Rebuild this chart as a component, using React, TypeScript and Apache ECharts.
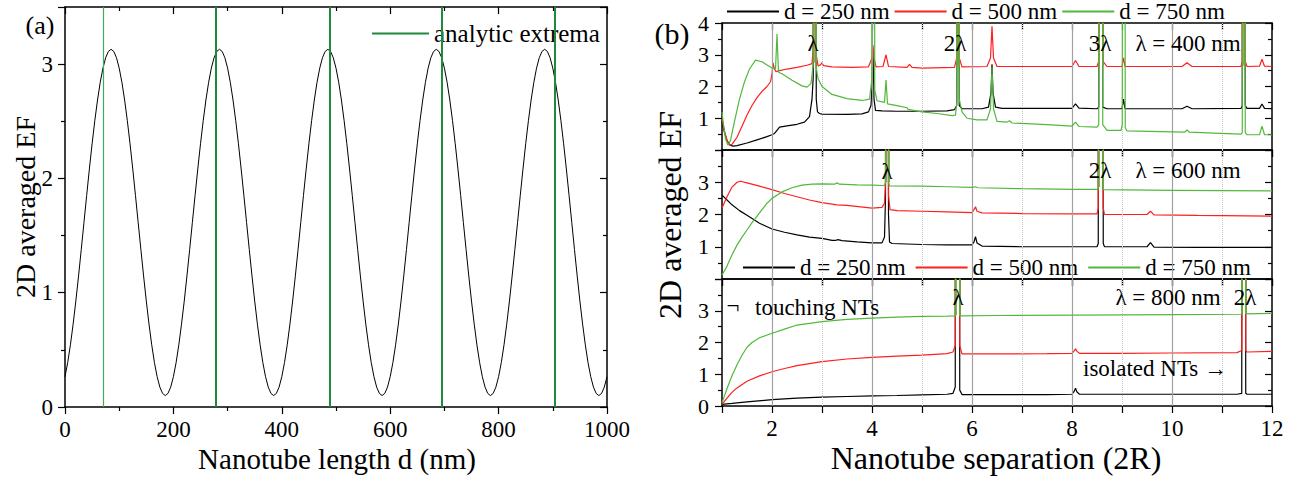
import React, { useEffect, useRef } from "react";
import * as echarts from "echarts";

const FONT = "'Times New Roman', 'Liberation Serif', 'DejaVu Serif', serif";

// ---------- panel (a) ----------
const lengthStepNm = 5; // sample spacing of the curve below, from d = 0 nm
const efByLength = [
  0.265, 0.389, 0.544, 0.725, 0.927, 1.147, 1.378, 1.615, 1.852, 2.083, 2.303, 2.505, 2.686, 2.841, 2.965, 3.056, 3.111, 3.130,
  3.111, 3.056, 2.965, 2.841, 2.686, 2.505, 2.303, 2.083, 1.852, 1.615, 1.378, 1.147, 0.927, 0.725, 0.544, 0.389, 0.265, 0.174, 0.119, 0.100,
  0.119, 0.174, 0.265, 0.389, 0.544, 0.725, 0.927, 1.147, 1.378, 1.615, 1.852, 2.083, 2.303, 2.505, 2.686, 2.841, 2.965, 3.056, 3.111, 3.130,
  3.111, 3.056, 2.965, 2.841, 2.686, 2.505, 2.303, 2.083, 1.852, 1.615, 1.378, 1.147, 0.927, 0.725, 0.544, 0.389, 0.265, 0.174, 0.119, 0.100,
  0.119, 0.174, 0.265, 0.389, 0.544, 0.725, 0.927, 1.147, 1.378, 1.615, 1.852, 2.083, 2.303, 2.505, 2.686, 2.841, 2.965, 3.056, 3.111, 3.130,
  3.111, 3.056, 2.965, 2.841, 2.686, 2.505, 2.303, 2.083, 1.852, 1.615, 1.378, 1.147, 0.927, 0.725, 0.544, 0.389, 0.265, 0.174, 0.119, 0.100,
  0.119, 0.174, 0.265, 0.389, 0.544, 0.725, 0.927, 1.147, 1.378, 1.615, 1.852, 2.083, 2.303, 2.505, 2.686, 2.841, 2.965, 3.056, 3.111, 3.130,
  3.111, 3.056, 2.965, 2.841, 2.686, 2.505, 2.303, 2.083, 1.852, 1.615, 1.378, 1.147, 0.927, 0.725, 0.544, 0.389, 0.265, 0.174, 0.119, 0.100,
  0.119, 0.174, 0.265, 0.389, 0.544, 0.725, 0.927, 1.147, 1.378, 1.615, 1.852, 2.083, 2.303, 2.505, 2.686, 2.841, 2.965, 3.056, 3.111, 3.130,
  3.111, 3.056, 2.965, 2.841, 2.686, 2.505, 2.303, 2.083, 1.852, 1.615, 1.378, 1.147, 0.927, 0.725, 0.544, 0.389, 0.265, 0.174, 0.119, 0.100,
  0.119, 0.174, 0.265,
];
const extremaNm = [70, 279, 488, 696, 904];
const lengthTicks = [0, 200, 400, 600, 800, 1000];
const efTicksA = [0, 1, 2, 3];

// ---------- panel (b) ----------
const sepTickLabels = [2, 4, 6, 8, 10, 12];
const sepMajorGrid = [2, 4, 6, 8, 10];
const sepMinorGrid = [3, 5, 7, 9, 11];
const topYLabels = [1, 2, 3, 4];
const midYLabels = [1, 2, 3];
const botYLabels = [0, 1, 2, 3];
const dNames = ["d = 250 nm", "d = 500 nm", "d = 750 nm"];

// lambda = 400 nm
const top250 = [
  [1.0, 0.9], [1.05, 0.55], [1.1, 0.3], [1.15, 0.17], [1.22, 0.12], [1.3, 0.14], [1.5, 0.22], [1.7, 0.32], [1.9, 0.42],
  [2.0, 0.48], [2.05, 0.52], [2.1, 0.62], [2.15, 0.72], [2.3, 0.76], [2.5, 0.81], [2.65, 0.88], [2.75, 1.05], [2.8, 1.6],
  [2.825, 2.3], [2.83, 9], [2.88, 9], [2.885, 1.6], [2.91, 1.2], [2.95, 1.15], [3.0, 1.13], [3.5, 1.12], [3.8, 1.14],
  [3.93, 1.2], [3.98, 1.4], [4.0, 2.0], [4.02, 3.1], [4.04, 1.6], [4.07, 1.25], [4.2, 1.23], [4.5, 1.22], [5.0, 1.22],
  [5.5, 1.23], [5.65, 1.27], [5.695, 1.4], [5.7, 9], [5.74, 9], [5.745, 1.4], [5.8, 1.3], [6.2, 1.3], [6.33, 1.35],
  [6.38, 1.8], [6.4, 2.7], [6.42, 1.8], [6.47, 1.35], [6.6, 1.31], [8.0, 1.31], [8.07, 1.45], [8.14, 1.32], [8.5, 1.3],
  [8.535, 1.35], [8.54, 9], [8.61, 9], [8.615, 1.35], [8.7, 1.3], [9.0, 1.3], [9.03, 1.6], [9.06, 1.3], [10.2, 1.3],
  [10.3, 1.38], [10.4, 1.3], [11.38, 1.31], [11.405, 1.4], [11.41, 9], [11.46, 9], [11.465, 1.4], [11.5, 1.31],
  [11.75, 1.31], [11.8, 1.45], [11.85, 1.31], [12.0, 1.3],
];
const top500 = [
  [1.0, 1.0], [1.05, 0.6], [1.1, 0.3], [1.15, 0.16], [1.2, 0.18], [1.3, 0.4], [1.4, 0.75], [1.5, 1.1], [1.6, 1.4],
  [1.7, 1.65], [1.8, 1.85], [1.9, 2.0], [1.97, 2.15], [2.0, 2.4], [2.02, 2.74], [2.05, 2.55], [2.08, 2.47], [2.15, 2.5],
  [2.3, 2.55], [2.5, 2.6], [2.7, 2.67], [2.8, 2.72], [2.825, 3.2], [2.83, 9], [2.88, 9], [2.885, 3.0], [2.92, 2.65],
  [2.97, 2.68], [3.0, 2.75], [3.03, 2.66], [3.2, 2.62], [3.6, 2.6], [3.93, 2.62], [4.0, 2.9], [4.02, 3.3], [4.04, 2.9],
  [4.08, 2.62], [4.22, 2.63], [4.28, 3.0], [4.33, 2.63], [4.7, 2.6], [4.75, 2.7], [4.8, 2.6], [5.0, 2.58], [5.65, 2.6],
  [5.695, 2.9], [5.7, 9], [5.74, 9], [5.745, 2.9], [5.8, 2.62], [6.3, 2.63], [6.37, 2.9], [6.4, 3.9], [6.43, 2.9],
  [6.5, 2.63], [8.0, 2.63], [8.07, 2.82], [8.14, 2.63], [8.5, 2.63], [8.535, 2.8], [8.54, 9], [8.61, 9], [8.615, 2.8],
  [8.7, 2.63], [9.0, 2.63], [9.03, 2.9], [9.06, 2.63], [10.2, 2.63], [10.3, 2.75], [10.4, 2.63], [11.38, 2.63],
  [11.405, 2.8], [11.41, 9], [11.46, 9], [11.465, 2.8], [11.5, 2.63], [11.75, 2.64], [11.8, 2.86], [11.85, 2.64], [12.0, 2.63],
];
const top750 = [
  [1.0, 1.2], [1.03, 0.8], [1.07, 0.35], [1.12, 0.15], [1.17, 0.3], [1.25, 0.9], [1.35, 1.6], [1.45, 2.15], [1.55, 2.55],
  [1.67, 2.83], [1.8, 2.78], [1.9, 2.68], [2.0, 2.58], [2.07, 2.55], [2.1, 3.65], [2.13, 2.45], [2.2, 2.4], [2.4, 2.2],
  [2.6, 2.02], [2.7, 1.98], [2.78, 2.1], [2.825, 2.7], [2.83, 9], [2.88, 9], [2.885, 2.6], [2.92, 2.25], [3.0, 2.0],
  [3.2, 1.75], [3.5, 1.62], [3.8, 1.56], [3.95, 1.6], [3.995, 2.2], [4.0, 9], [4.05, 9], [4.055, 1.9], [4.1, 1.55],
  [4.25, 1.5], [4.28, 2.2], [4.31, 1.45], [4.5, 1.4], [4.7, 1.33], [4.72, 1.28], [5.0, 1.2], [5.3, 1.15], [5.6, 1.08],
  [5.67, 1.1], [5.695, 1.5], [5.7, 9], [5.74, 9], [5.745, 1.6], [5.8, 1.2], [5.9, 1.0], [6.1, 0.95], [6.3, 0.95],
  [6.37, 1.3], [6.4, 2.6], [6.43, 1.3], [6.5, 0.9], [6.7, 0.88], [6.75, 0.92], [6.8, 0.85], [7.5, 0.8], [8.0, 0.75],
  [8.07, 0.88], [8.14, 0.74], [8.5, 0.72], [8.535, 0.8], [8.54, 9], [8.61, 9], [8.615, 0.8], [8.7, 0.62], [8.98, 0.62],
  [9.005, 0.8], [9.01, 9], [9.06, 9], [9.065, 0.7], [9.1, 0.6], [10.0, 0.57], [10.25, 0.56], [10.3, 0.63], [10.35, 0.56],
  [10.7, 0.54], [11.38, 0.5], [11.405, 0.55], [11.41, 9], [11.46, 9], [11.465, 0.55], [11.5, 0.48], [11.75, 0.48],
  [11.8, 0.75], [11.85, 0.48], [12.0, 0.48],
];
// lambda = 600 nm
const mid250 = [
  [1.0, 2.6], [1.1, 2.45], [1.2, 2.3], [1.35, 2.12], [1.5, 1.98], [1.75, 1.73], [2.0, 1.55], [2.25, 1.45], [2.5, 1.37],
  [2.75, 1.3], [3.0, 1.26], [3.2, 1.2], [3.28, 1.2], [3.32, 1.22], [3.4, 1.19], [3.7, 1.15], [4.0, 1.12], [4.2, 1.12],
  [4.25, 1.3], [4.27, 2.5], [4.275, 9], [4.325, 9], [4.33, 2.0], [4.35, 1.15], [4.4, 1.1], [5.0, 1.07], [5.5, 1.06],
  [6.0, 1.06], [6.04, 1.15], [6.07, 1.31], [6.1, 1.12], [6.2, 1.02], [7.0, 1.0], [8.0, 1.0], [8.5, 1.0], [8.525, 1.1],
  [8.53, 9], [8.62, 9], [8.625, 1.1], [8.65, 1.0], [9.5, 1.0], [9.57, 1.13], [9.64, 0.99], [10.5, 0.98], [12.0, 0.98],
];
const mid500 = [
  [1.0, 2.2], [1.1, 2.55], [1.2, 2.85], [1.3, 3.0], [1.37, 3.03], [1.5, 2.98], [1.75, 2.88], [2.0, 2.77], [2.25, 2.65],
  [2.5, 2.55], [2.75, 2.45], [3.0, 2.37], [3.3, 2.3], [3.5, 2.28], [4.0, 2.2], [4.2, 2.22], [4.25, 2.35], [4.27, 3.0],
  [4.275, 9], [4.325, 9], [4.33, 2.6], [4.36, 2.15], [4.5, 2.12], [5.0, 2.1], [5.5, 2.08], [6.0, 2.06], [6.04, 2.15],
  [6.07, 2.24], [6.1, 2.1], [6.2, 2.05], [7.0, 2.03], [8.0, 2.02], [8.5, 2.02], [8.525, 2.2], [8.53, 9], [8.62, 9],
  [8.625, 2.2], [8.65, 2.0], [9.5, 2.0], [9.57, 2.1], [9.64, 1.99], [10.5, 1.97], [12.0, 1.95],
];
const mid750 = [
  [1.0, 0.12], [1.1, 0.4], [1.2, 0.75], [1.3, 1.05], [1.4, 1.3], [1.5, 1.52], [1.6, 1.75], [1.75, 2.05], [1.9, 2.35],
  [2.0, 2.5], [2.2, 2.7], [2.4, 2.83], [2.6, 2.91], [2.8, 2.94], [3.0, 2.95], [3.25, 2.94], [3.3, 2.98], [3.35, 2.94],
  [3.7, 2.92], [4.0, 2.91], [4.25, 2.9], [4.27, 3.0], [4.275, 9], [4.325, 9], [4.33, 3.0], [4.35, 2.89], [5.0, 2.88],
  [5.5, 2.86], [6.0, 2.84], [6.07, 2.86], [6.12, 2.83], [7.0, 2.8], [8.0, 2.78], [8.52, 2.78], [8.525, 2.85], [8.53, 9],
  [8.62, 9], [8.625, 2.85], [8.63, 2.77], [10.0, 2.75], [12.0, 2.73],
];
// lambda = 800 nm
const bot250 = [
  [1.0, 0.05], [1.2, 0.08], [1.5, 0.13], [2.0, 0.2], [2.5, 0.25], [3.0, 0.28], [3.5, 0.3], [4.0, 0.32], [4.5, 0.33],
  [5.0, 0.35], [5.5, 0.37], [5.62, 0.4], [5.665, 0.6], [5.67, 9], [5.75, 9], [5.755, 0.5], [5.8, 0.36], [6.5, 0.36],
  [7.5, 0.36], [8.0, 0.37], [8.04, 0.45], [8.07, 0.56], [8.1, 0.44], [8.15, 0.37], [9.0, 0.37], [10.0, 0.37],
  [11.3, 0.37], [11.395, 0.4], [11.4, 9], [11.47, 9], [11.475, 0.4], [11.5, 0.37], [12.0, 0.37],
];
const bot500 = [
  [1.0, 0.05], [1.1, 0.25], [1.2, 0.43], [1.3, 0.57], [1.5, 0.78], [1.75, 0.95], [2.0, 1.08], [2.25, 1.18], [2.5, 1.27],
  [3.0, 1.4], [3.5, 1.48], [4.0, 1.53], [4.5, 1.57], [5.0, 1.6], [5.5, 1.65], [5.62, 1.7], [5.665, 1.9], [5.67, 9],
  [5.75, 9], [5.755, 1.9], [5.8, 1.64], [6.5, 1.64], [7.5, 1.65], [8.0, 1.66], [8.04, 1.73], [8.07, 1.8], [8.1, 1.72],
  [8.15, 1.66], [9.0, 1.66], [10.0, 1.67], [11.3, 1.68], [11.395, 1.75], [11.4, 9], [11.47, 9], [11.475, 1.75],
  [11.5, 1.7], [12.0, 1.72],
];
const bot750 = [
  [1.0, 0.1], [1.1, 0.55], [1.2, 0.95], [1.3, 1.3], [1.4, 1.6], [1.5, 1.85], [1.6, 2.0], [1.75, 2.15], [2.0, 2.29],
  [2.25, 2.42], [2.5, 2.55], [3.0, 2.66], [3.5, 2.73], [4.0, 2.77], [4.5, 2.8], [5.0, 2.82], [5.5, 2.83], [5.665, 2.84],
  [5.67, 9], [5.75, 9], [5.755, 2.84], [6.5, 2.85], [8.0, 2.86], [9.0, 2.87], [10.0, 2.88], [11.395, 2.89], [11.4, 9],
  [11.47, 9], [11.475, 2.9], [12.0, 2.92],
];
// resonance (Rayleigh-anomaly) double lines: [left x, right x, lowest y]
const resonTop = [[2.83, 2.88, 2.75], [5.7, 5.74, 2.62], [8.54, 8.61, 2.65], [11.41, 11.46, 2.65]];
const resonMid = [[4.275, 4.325, 3.0], [8.53, 8.62, 2.85]];
const resonBot = [[5.67, 5.75, 2.86], [11.4, 11.47, 2.9]];

const BLACK = "#000000";
const RED = "#ff1f1f";
const GREEN = "#52b83c";
const OLIVE = "#8e8a3e";
const EXTREMA = "#1d8a3e";

export default function App() {
  const ref = useRef<HTMLDivElement>(null);

  useEffect(() => {
    if (!ref.current) return;
    const chart = echarts.init(ref.current, undefined, { renderer: "svg" });

    const axisLine = { show: true, onZero: false, lineStyle: { color: "#000", width: 1.5 } };
    const tickStyle = { color: "#000", width: 1.2 };
    const labelBase = { fontSize: 23, fontFamily: FONT, color: "#000" };

    const xPair = (g: number, min: number, max: number, interval: number, minor: boolean, labels: number[] | null) => [
      {
        type: "value", gridIndex: g, position: "bottom", min, max, interval,
        axisLine, splitLine: { show: false },
        axisTick: { show: true, inside: false, length: 7, lineStyle: tickStyle },
        minorTick: { show: minor, splitNumber: 2, length: 4, lineStyle: tickStyle },
        axisLabel: labels
          ? { show: true, ...labelBase, margin: 11, formatter: (v: number) => (labels.includes(v) ? String(v) : "") }
          : { show: false },
      },
      {
        type: "value", gridIndex: g, position: "top", min, max, interval,
        axisLine, splitLine: { show: false },
        axisTick: { show: true, inside: true, length: 7, lineStyle: tickStyle },
        minorTick: { show: minor, splitNumber: 2, length: 4, lineStyle: tickStyle },
        axisLabel: { show: false },
      },
    ];
    const yPair = (g: number, max: number, labels: number[], size: number, margin: number) => [
      {
        type: "value", gridIndex: g, position: "left", min: 0, max, interval: 1,
        axisLine, splitLine: { show: false },
        axisTick: { show: true, inside: false, length: 7, lineStyle: tickStyle },
        minorTick: { show: true, splitNumber: 2, length: 4, lineStyle: tickStyle },
        axisLabel: {
          show: true, ...labelBase, fontSize: size, margin,
          formatter: (v: number) => (labels.includes(v) ? String(v) : ""),
        },
      },
      {
        type: "value", gridIndex: g, position: "right", min: 0, max, interval: 1,
        axisLine, splitLine: { show: false },
        axisTick: { show: true, inside: true, length: 7, lineStyle: tickStyle },
        minorTick: { show: true, splitNumber: 2, length: 4, lineStyle: tickStyle },
        axisLabel: { show: false },
      },
    ];

    const xAxis = [
      ...xPair(0, 0, 1000, 200, true, lengthTicks),
      ...xPair(1, 1, 12, 1, false, null),
      ...xPair(2, 1, 12, 1, false, null),
      ...xPair(3, 1, 12, 1, false, sepTickLabels),
    ];
    const yAxis = [
      ...yPair(0, 3.5, efTicksA, 23, 12),
      ...yPair(1, 4, topYLabels, 22, 13),
      ...yPair(2, 4, midYLabels, 22, 13),
      ...yPair(3, 4, botYLabels, 22, 13),
    ];

    const series: any[] = [
      {
        type: "line", name: "EF(d)", xAxisIndex: 0, yAxisIndex: 0,
        data: efByLength.map((v, i) => [i * lengthStepNm, v]),
        symbol: "none", showSymbol: false, lineStyle: { color: BLACK, width: 1 }, z: 3,
      },
      {
        type: "line", name: "analytic extrema", xAxisIndex: 0, yAxisIndex: 0, data: [],
        symbol: "none", itemStyle: { color: EXTREMA }, lineStyle: { color: EXTREMA, width: 1.6 }, z: 2,
        markLine: {
          silent: true, symbol: ["none", "none"], label: { show: false },
          lineStyle: { color: EXTREMA, width: 2, type: "solid" },
          data: extremaNm.map((x, i) =>
            i === 0 ? { xAxis: x, lineStyle: { color: "#43a85a", width: 1.2, type: "solid" } } : { xAxis: x }
          ),
        },
      },
    ];

    const panels = [
      { idx: 2, curves: [top250, top500, top750], reson: resonTop },
      { idx: 4, curves: [mid250, mid500, mid750], reson: resonMid },
      { idx: 6, curves: [bot250, bot500, bot750], reson: resonBot },
    ];
    const colors = [BLACK, RED, GREEN];
    panels.forEach((p, pi) => {
      series.push({
        type: "line", name: "grid" + pi, xAxisIndex: p.idx, yAxisIndex: p.idx, data: [], z: 1,
        markLine: {
          silent: true, symbol: ["none", "none"], label: { show: false },
          data: [
            ...sepMajorGrid.map((x) => ({ xAxis: x, lineStyle: { color: "#a0a0a0", width: 1.2, type: "solid" } })),
            ...sepMinorGrid.map((x) => ({ xAxis: x, lineStyle: { color: "#c4c4c4", width: 1, type: "dotted" } })),
          ],
        },
      });
      p.curves.forEach((c, ci) => {
        series.push({
          type: "line", name: dNames[ci], xAxisIndex: p.idx, yAxisIndex: p.idx, data: c,
          symbol: "none", showSymbol: false, clip: true,
          itemStyle: { color: colors[ci] }, lineStyle: { color: colors[ci], width: 1.2 }, z: 3 + ci,
        });
      });
      series.push({
        type: "line", name: "resonance" + pi, xAxisIndex: p.idx, yAxisIndex: p.idx, data: [], z: 7,
        markLine: {
          silent: true, symbol: ["none", "none"], label: { show: false },
          lineStyle: { color: OLIVE, width: 1.6, type: "solid" },
          data: p.reson.flatMap((r) => [
            [{ coord: [r[0], r[2]] }, { coord: [r[0], 4] }],
            [{ coord: [r[1], r[2]] }, { coord: [r[1], 4] }],
          ]),
        },
      });
    });

    const txt = (text: string, x: number, y: number, size: number, align = "center", rotation = 0) => ({
      type: "text", x, y, rotation, z: 100,
      style: {
        text, fontSize: size, fontFamily: FONT, fill: "#000",
        textAlign: align, textVerticalAlign: "middle", align, verticalAlign: "middle",
      },
    });

    const legendText = { fontSize: 23, fontFamily: FONT, color: "#000" };

    chart.setOption({
      animation: false,
      backgroundColor: "#fff",
      textStyle: { fontFamily: FONT },
      grid: [
        { left: 65, top: 7, width: 542, height: 400 },
        { left: 722, top: 23, width: 550, height: 127 },
        { left: 722, top: 150, width: 550, height: 129 },
        { left: 722, top: 279, width: 550, height: 127 },
      ],
      xAxis,
      yAxis,
      legend: [
        {
          data: ["analytic extrema"], left: 372, top: 21, padding: 0, itemWidth: 57, itemHeight: 2,
          icon: "rect", itemGap: 6,
          selectedMode: false, textStyle: { ...legendText, fontSize: 25 },
        },
        {
          data: dNames, left: 727, top: 0, padding: 0, itemWidth: 52, itemHeight: 2, itemGap: 5,
          icon: "rect", selectedMode: false, textStyle: legendText,
        },
        {
          data: dNames, left: 743, top: 256, padding: 0, itemWidth: 52, itemHeight: 2, itemGap: 10,
          icon: "rect", selectedMode: false, textStyle: legendText,
        },
      ],
      graphic: [
        txt("(a)", 40, 25, 26),
        txt("(b)", 672, 33, 30),
        txt("2D averaged EF", 25, 207, 28, "center", Math.PI / 2),
        txt("2D averaged EF", 670, 215, 32, "center", Math.PI / 2),
        txt("Nanotube length d (nm)", 337, 459, 29),
        txt("Nanotube separation (2R)", 996, 458, 32),
        txt("λ", 813, 43, 23),
        txt("2λ", 955, 43, 23),
        txt("3λ", 1100, 43, 23),
        txt("λ = 400 nm", 1188, 43, 23),
        txt("λ", 887, 171, 23),
        txt("2λ", 1100, 170, 23),
        txt("λ = 600 nm", 1188, 170, 23),
        txt("λ", 958, 297, 23),
        txt("λ = 800 nm", 1168, 297, 23),
        txt("2λ", 1245, 297, 23),
        txt("¬", 733, 305, 23),
        txt("touching NTs", 755, 307, 23, "left"),
        txt("isolated NTs →", 1083, 368, 23, "left"),
      ],
      series,
    });

    return () => chart.dispose();
  }, []);

  return (
    <div
      ref={ref}
      style={{ position: "absolute", left: 0, top: 0, width: 1298, height: 479, background: "#fff" }}
    />
  );
}
